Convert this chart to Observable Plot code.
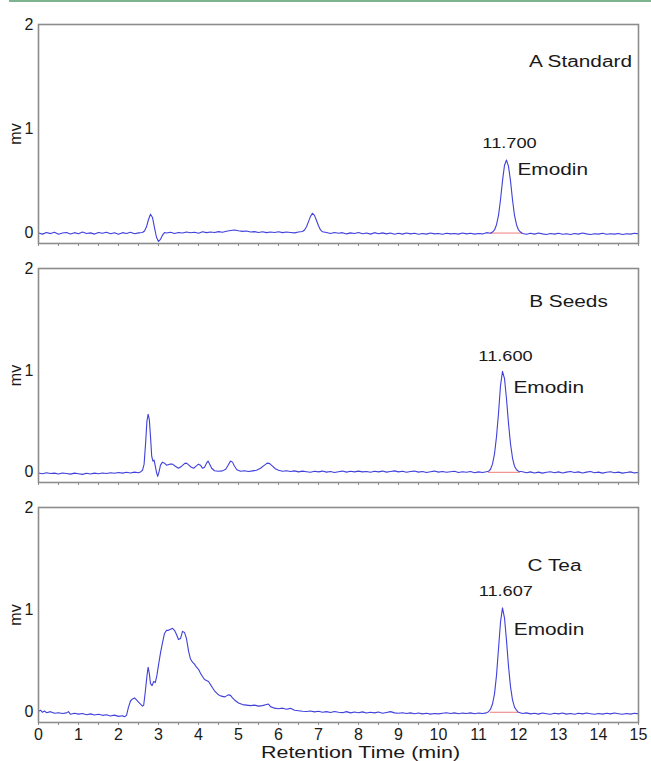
<!DOCTYPE html>
<html><head><meta charset="utf-8">
<script src="https://cdn.jsdelivr.net/npm/d3@7"></script>
<script src="https://cdn.jsdelivr.net/npm/@observablehq/plot@0.6"></script>
<style>
body{margin:0;background:#fff;width:651px;height:761px;overflow:hidden;position:relative;font-family:"Liberation Sans",Arial,sans-serif}
#green{position:absolute;left:9px;right:0;top:0;height:2px;background:#7db38f}
#chart svg{display:block}
</style></head><body><div id="green"></div><div id="chart"></div>
<script>
// ---- data ----
const panelNames = ["A Standard", "B Seeds", "C Tea"];
const retentionLabels = ["11.700", "11.600", "11.607"];
const compound = "Emodin";
const integrationStart = [11.3, 11.25, 11.3];
const integrationEnd = [12.1, 12.05, 12.0];
const xTickValues = [0,1,2,3,4,5,6,7,8,9,10,11,12,13,14,15];
const yTickValues = [0, 1, 2];
const xTitle = "Retention Time (min)";
const yTitle = "mv";

const standardTrace = [
[0.0,0.000],[0.1,-0.010],[0.2,0.005],[0.3,-0.005],[0.4,0.008],[0.5,-0.012],[0.6,0.000],[0.7,0.006],[0.8,-0.008],[0.9,0.004],
[1.0,-0.006],[1.1,0.010],[1.2,-0.004],[1.3,0.002],[1.4,-0.010],[1.5,0.006],[1.6,-0.002],[1.7,0.008],[1.8,-0.006],[1.9,0.003],
[2.0,-0.012],[2.1,0.004],[2.2,-0.004],[2.3,0.007],[2.4,-0.006],[2.5,0.002],[2.6,0.005],
[2.65,0.02],[2.7,0.06],[2.75,0.13],[2.8,0.18],[2.85,0.15],[2.9,0.05],[2.95,-0.04],[3.0,-0.08],[3.05,-0.06],[3.1,-0.02],[3.15,0.005],
[3.2,0.0],[3.3,0.008],[3.4,-0.004],[3.5,0.006],[3.6,0.0],[3.7,0.010],[3.8,0.003],[3.9,0.008],[4.0,-0.002],[4.1,0.012],
[4.2,0.004],[4.3,0.010],[4.4,0.006],[4.5,0.014],[4.6,0.008],[4.7,0.018],[4.8,0.025],[4.9,0.030],[5.0,0.022],[5.1,0.016],
[5.2,0.020],[5.3,0.010],[5.4,0.014],[5.5,0.006],[5.6,0.012],[5.7,0.004],[5.8,0.010],[5.9,0.006],[6.0,0.012],[6.1,0.004],
[6.2,0.010],[6.3,0.006],[6.4,0.002],[6.5,0.010],[6.6,0.015],
[6.65,0.03],[6.7,0.06],[6.75,0.11],[6.8,0.16],[6.85,0.19],[6.9,0.17],[6.95,0.12],[7.0,0.07],[7.05,0.03],[7.1,0.012],
[7.2,0.005],[7.3,-0.004],[7.4,0.006],[7.5,-0.002],[7.6,0.004],[7.7,-0.008],[7.8,0.002],[7.9,-0.004],[8.0,0.006],[8.1,-0.006],
[8.2,0.0],[8.3,-0.01],[8.4,0.004],[8.5,-0.006],[8.6,0.002],[8.7,-0.008],[8.8,0.0],[8.9,-0.012],[9.0,-0.002],[9.1,-0.01],
[9.2,0.0],[9.3,-0.008],[9.4,-0.002],[9.5,-0.012],[9.6,-0.004],[9.7,-0.01],[9.8,0.0],[9.9,-0.008],[10.0,-0.004],[10.1,-0.012],
[10.2,-0.002],[10.3,-0.008],[10.4,-0.004],[10.5,-0.01],[10.6,0.0],[10.7,-0.008],[10.8,-0.002],[10.9,-0.01],[11.0,-0.004],[11.1,-0.008],
[11.2,0.004],[11.3,-0.002],
[11.35,0.01],[11.4,0.03],[11.45,0.08],[11.5,0.17],[11.55,0.32],[11.6,0.50],[11.65,0.65],[11.7,0.70],[11.75,0.64],[11.8,0.50],
[11.85,0.32],[11.9,0.17],[11.95,0.08],[12.0,0.03],[12.05,0.01],
[12.1,-0.004],[12.2,-0.012],[12.3,-0.002],[12.4,-0.01],[12.5,0.0],[12.6,-0.008],[12.7,-0.014],[12.8,-0.004],[12.9,-0.01],[13.0,-0.002],
[13.1,-0.012],[13.2,-0.006],[13.3,-0.014],[13.4,-0.004],[13.5,-0.01],[13.6,0.0],[13.7,-0.008],[13.8,-0.014],[13.9,-0.006],[14.0,-0.01],
[14.1,-0.002],[14.2,-0.012],[14.3,-0.006],[14.4,-0.01],[14.5,-0.004],[14.6,-0.014],[14.7,-0.006],[14.8,-0.01],[14.9,-0.002],[15.0,-0.008]
];

const seedsTrace = [
[0.0,-0.006],[0.1,-0.014],[0.2,-0.004],[0.3,-0.012],[0.4,-0.008],[0.5,-0.016],[0.6,-0.006],[0.7,-0.012],[0.8,-0.018],[0.9,-0.008],
[1.0,-0.014],[1.1,-0.02],[1.2,-0.01],[1.3,-0.016],[1.4,-0.008],[1.5,-0.014],[1.6,-0.006],[1.7,-0.012],[1.8,-0.004],[1.9,-0.01],
[2.0,-0.002],[2.1,-0.008],[2.2,0.0],[2.3,-0.006],[2.4,0.002],[2.5,-0.004],[2.55,0.004],[2.6,0.02],
[2.64,0.08],[2.68,0.30],[2.71,0.50],[2.74,0.57],[2.77,0.52],[2.8,0.35],[2.83,0.16],[2.86,0.11],[2.89,0.12],[2.92,0.06],
[2.95,0.0],[2.98,-0.04],[3.01,0.0],[3.05,0.07],[3.1,0.10],[3.15,0.09],[3.2,0.07],[3.28,0.08],[3.35,0.08],[3.42,0.06],
[3.5,0.04],[3.58,0.06],[3.65,0.085],[3.7,0.09],[3.76,0.07],[3.82,0.05],[3.88,0.04],[3.94,0.06],[4.0,0.08],[4.05,0.07],
[4.1,0.04],[4.15,0.05],[4.2,0.09],[4.24,0.11],[4.28,0.08],[4.33,0.04],[4.4,0.015],[4.5,0.01],[4.6,0.014],[4.68,0.03],
[4.74,0.07],[4.8,0.11],[4.85,0.10],[4.9,0.06],[4.96,0.025],[5.05,0.01],[5.15,0.016],[5.25,0.008],[5.35,0.014],[5.45,0.02],
[5.55,0.04],[5.65,0.07],[5.72,0.09],[5.78,0.085],[5.85,0.06],[5.92,0.035],[6.0,0.02],[6.1,0.01],
[6.2,0.016],[6.3,0.008],[6.4,0.014],[6.5,0.004],[6.6,0.012],[6.7,0.006],[6.8,0.0],[6.9,0.01],[7.0,0.004],[7.1,0.012],
[7.2,0.002],[7.3,0.008],[7.4,-0.002],[7.5,0.006],[7.6,0.012],[7.7,0.002],[7.8,0.01],[7.9,0.004],[8.0,0.012],[8.1,0.004],
[8.2,0.008],[8.3,0.0],[8.4,0.01],[8.5,0.004],[8.6,0.012],[8.7,0.002],[8.8,0.008],[8.9,0.014],[9.0,0.004],[9.1,0.01],
[9.2,0.0],[9.3,0.008],[9.4,0.012],[9.5,0.002],[9.6,0.008],[9.7,-0.002],[9.8,0.006],[9.9,0.012],[10.0,0.002],[10.1,0.008],
[10.2,0.0],[10.3,0.006],[10.4,0.01],[10.5,-0.002],[10.6,0.006],[10.7,0.0],[10.8,0.008],[10.9,-0.004],[11.0,0.004],[11.1,-0.002],
[11.2,0.006],
[11.25,0.01],[11.3,0.03],[11.35,0.08],[11.4,0.18],[11.45,0.35],[11.5,0.58],[11.55,0.85],[11.6,0.99],[11.65,0.92],[11.7,0.72],
[11.75,0.48],[11.8,0.28],[11.85,0.14],[11.9,0.06],[11.95,0.025],[12.0,0.01],
[12.1,0.006],[12.2,-0.004],[12.3,0.004],[12.4,-0.006],[12.5,0.002],[12.6,-0.008],[12.7,0.0],[12.8,0.006],[12.9,-0.004],[13.0,0.004],
[13.1,-0.006],[13.2,0.002],[13.3,0.008],[13.4,-0.002],[13.5,0.004],[13.6,-0.006],[13.7,0.002],[13.8,0.008],[13.9,-0.004],[14.0,0.002],
[14.1,-0.008],[14.2,0.0],[14.3,0.006],[14.4,-0.004],[14.5,0.002],[14.6,-0.008],[14.7,-0.002],[14.8,0.004],[14.9,-0.006],[15.0,-0.002]
];

const teaTrace = [
[0.0,0.01],[0.05,0.02],[0.1,0.0],[0.15,0.012],[0.2,-0.004],[0.3,0.006],[0.4,-0.01],[0.5,-0.004],[0.6,-0.012],[0.7,-0.006],
[0.75,0.006],[0.8,-0.02],[0.9,-0.01],[1.0,-0.018],[1.1,-0.012],[1.2,-0.024],[1.3,-0.016],[1.4,-0.026],[1.5,-0.02],[1.6,-0.03],
[1.7,-0.024],[1.8,-0.036],[1.9,-0.028],[2.0,-0.04],[2.1,-0.034],[2.15,-0.044],[2.2,-0.03],
[2.25,0.05],[2.3,0.11],[2.35,0.13],[2.4,0.14],[2.45,0.12],[2.5,0.10],[2.55,0.08],[2.6,0.06],[2.63,0.07],
[2.67,0.2],[2.71,0.35],[2.74,0.44],[2.77,0.38],[2.8,0.28],[2.84,0.26],[2.88,0.30],[2.92,0.29],[2.96,0.36],[3.0,0.46],
[3.05,0.58],[3.1,0.68],[3.15,0.77],[3.2,0.80],[3.25,0.80],[3.3,0.81],[3.35,0.82],[3.4,0.80],[3.45,0.76],[3.5,0.71],
[3.55,0.72],[3.6,0.79],[3.65,0.78],[3.7,0.72],[3.75,0.60],[3.8,0.52],[3.85,0.49],[3.9,0.47],[3.95,0.44],[4.0,0.42],
[4.05,0.38],[4.1,0.35],[4.15,0.32],[4.2,0.31],[4.25,0.30],[4.3,0.27],[4.35,0.24],[4.4,0.21],[4.45,0.19],[4.5,0.17],
[4.55,0.16],[4.6,0.155],[4.65,0.15],[4.7,0.16],[4.75,0.17],[4.8,0.165],[4.85,0.14],[4.9,0.12],[4.95,0.105],[5.0,0.09],
[5.1,0.075],[5.2,0.07],[5.3,0.065],[5.4,0.07],[5.5,0.06],[5.6,0.065],[5.7,0.075],[5.75,0.08],[5.8,0.055],[5.9,0.04],
[6.0,0.035],[6.1,0.04],[6.2,0.03],[6.3,0.038],[6.4,0.02],[6.5,0.015],[6.6,0.01],[6.7,0.008],[6.8,0.012],[6.9,0.004],
[7.0,0.01],[7.1,0.0],[7.2,0.006],[7.3,-0.002],[7.4,0.008],[7.5,0.0],[7.6,-0.004],[7.7,0.006],[7.8,-0.006],[7.9,0.002],
[8.0,-0.004],[8.1,0.004],[8.2,-0.008],[8.3,0.0],[8.4,-0.006],[8.5,0.002],[8.6,-0.01],[8.7,-0.002],[8.8,0.006],[8.9,-0.006],
[9.0,-0.01],[9.1,-0.004],[9.2,-0.012],[9.3,-0.006],[9.4,-0.014],[9.5,-0.008],[9.6,-0.016],[9.7,-0.01],[9.8,-0.018],[9.9,-0.012],
[10.0,-0.016],[10.1,-0.01],[10.2,-0.004],[10.3,-0.012],[10.4,-0.006],[10.5,-0.014],[10.6,-0.008],[10.7,-0.012],[10.8,-0.006],[10.9,-0.014],
[11.0,-0.008],[11.1,-0.012],[11.2,-0.006],
[11.25,0.005],[11.3,0.03],[11.35,0.08],[11.4,0.18],[11.45,0.36],[11.5,0.62],[11.55,0.88],[11.6,1.02],[11.65,0.92],[11.7,0.70],
[11.75,0.45],[11.8,0.25],[11.85,0.12],[11.9,0.05],[11.95,0.02],[12.0,0.0],
[12.1,-0.012],[12.2,-0.006],[12.3,-0.016],[12.4,-0.01],[12.5,-0.018],[12.6,-0.008],[12.7,-0.014],[12.8,-0.02],[12.9,-0.01],[13.0,-0.016],
[13.1,-0.008],[13.2,-0.018],[13.3,-0.012],[13.4,-0.02],[13.5,-0.01],[13.6,-0.016],[13.7,-0.008],[13.8,-0.014],[13.9,-0.02],[14.0,-0.012],
[14.1,-0.018],[14.2,-0.01],[14.3,-0.016],[14.4,-0.008],[14.5,-0.014],[14.6,-0.02],[14.7,-0.012],[14.8,-0.018],[14.9,-0.01],[15.0,-0.016]
];

const traces = [standardTrace, seedsTrace, teaTrace];

// ---- layout (styling only) ----
const layouts = [
  {height: 250, mt: 24, mb: 7,  nameX: 13.55, nameY: 1.64, rtDy: -17, emDy: 10},
  {height: 240, mt: 18, mb: 8,  nameX: 13.25, nameY: 1.67, rtDy: -15, emDy: 16},
  {height: 271, mt: 17, mb: 39, nameX: 12.9,  nameY: 1.43, rtDy: -16, emDy: 22}
];
const minorTicks = d3.range(0, 15.01, 0.5);
const font = "'Liberation Sans', Arial, sans-serif";
const lineColor = "#2b2bd6";
const frameColor = "#8c8c8c";
const textStretch = 1.3;

const chart = document.getElementById("chart");
traces.forEach((trace, i) => {
  const L = layouts[i];
  const last = i === traces.length - 1;
  const data = trace.map(([t, v]) => ({t, v}));
  const rt = +retentionLabels[i];
  const peak = d3.max(data.filter(d => Math.abs(d.t - rt) < 0.3), d => d.v);
  const plot = Plot.plot({
    width: 651,
    height: L.height,
    marginTop: L.mt,
    marginBottom: L.mb,
    marginLeft: 38,
    marginRight: 13,
    style: {fontFamily: font, fontSize: "15px", color: "#1a1a1a", background: "white"},
    x: {domain: [0, 15]},
    y: {domain: [-0.1, 2]},
    marks: [
      Plot.ruleY([0], {x1: integrationStart[i], x2: integrationEnd[i], stroke: "#f07a7a", strokeWidth: 1}),
      Plot.line(data, {x: "t", y: "v", stroke: lineColor, strokeWidth: 1.1, strokeOpacity: 0.9}),
      Plot.frame({stroke: frameColor, strokeWidth: 1.6}),
      Plot.axisY({ticks: yTickValues, tickFormat: "d", tickSize: 0, tickPadding: 5, fontSize: 16,
        label: yTitle, labelAnchor: "center", labelArrow: "none", labelOffset: 29}),
      Plot.axisX({ticks: minorTicks, tickSize: 3, stroke: frameColor, tickFormat: () => "", label: null}),
      ...(last ? [
        Plot.axisX({ticks: xTickValues, tickFormat: "d", tickSize: 0, tickPadding: 6, fontSize: 16, label: null}),
        Plot.text([xTitle], {frameAnchor: "bottom", lineAnchor: "bottom", text: d => d, dy: 35, dx: 22, fontSize: 16.5, fill: "#1a1a1a"})
      ] : []),
      Plot.text([panelNames[i]], {x: () => L.nameX, y: () => L.nameY, text: d => d, fontSize: 16, fill: "#1a1a1a"}),
      Plot.text([retentionLabels[i]], {x: () => rt, y: () => peak, text: d => d, dy: L.rtDy, dx: 3, fontSize: 14, fill: "#1a1a1a"}),
      Plot.text([compound], {x: () => rt, y: () => peak, text: d => d, dy: L.emDy, dx: 11, textAnchor: "start", fontSize: 16, fill: "#1a1a1a"})
    ]
  });
  chart.appendChild(plot);
  // widen annotation glyphs horizontally, as in the (horizontally stretched) original figure
  plot.querySelectorAll('g[aria-label="text"] text').forEach(el => {
    const w = el.getComputedTextLength();
    if (w > 0) {
      el.setAttribute("textLength", (w * textStretch).toFixed(1));
      el.setAttribute("lengthAdjust", "spacingAndGlyphs");
    }
  });
});
</script>
</body></html>
